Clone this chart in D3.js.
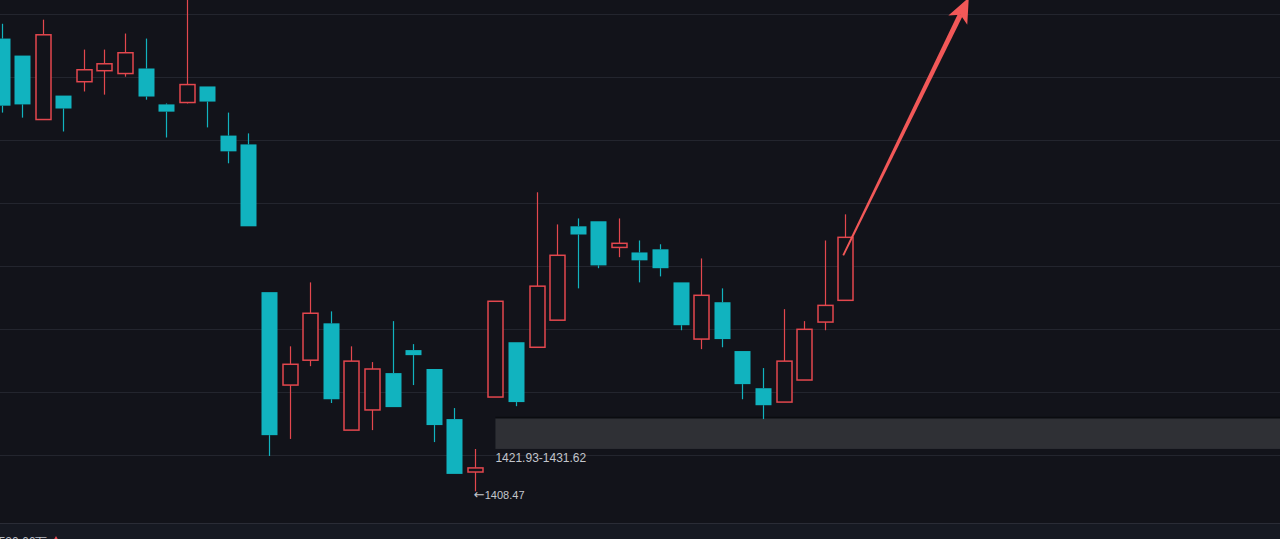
<!DOCTYPE html>
<html>
<head>
<meta charset="utf-8">
<script src="https://cdn.jsdelivr.net/npm/d3@7"></script>
<style>
  html, body { margin: 0; padding: 0; background: #12131a; overflow: hidden; }
  svg { display: block; }
</style>
</head>
<body>
<svg id="chart" width="1280" height="539"></svg>
<script>
// ---- data ----
const idx   = d3.range(42);
const open  = [1552.2,1546.8,1526.5,1534.1,1538.5,1542.0,1541.1,1542.7,1531.3,1531.9,1537.0,1521.4,1518.6,1471.7,1442.2,1450.1,1461.8,1427.9,1434.3,1446.0,1453.3,1447.3,1431.4,1414.6,1438.4,1455.8,1454.2,1462.8,1492.6,1494.2,1485.9,1484.3,1485.3,1474.8,1456.8,1468.5,1453.0,1441.2,1436.8,1443.8,1462.2,1469.1];
const high  = [1556.9,1546.8,1558.2,1534.1,1548.7,1548.7,1553.8,1552.2,1531.6,1567.4,1537.0,1528.7,1522.1,1471.7,1454.5,1474.8,1465.6,1454.5,1449.5,1462.5,1455.2,1447.3,1434.9,1421.9,1468.8,1455.8,1503.4,1493.2,1495.1,1494.2,1495.1,1488.1,1486.9,1474.8,1482.4,1472.9,1453.0,1447.6,1466.3,1462.5,1488.1,1496.4];
const low   = [1528.7,1527.1,1526.5,1522.7,1535.4,1534.4,1540.1,1532.8,1520.8,1531.6,1524.0,1512.6,1492.6,1419.7,1425.1,1448.2,1436.5,1427.9,1427.9,1435.2,1442.2,1424.1,1414.0,1408.47,1438.4,1435.5,1454.2,1462.8,1472.9,1479.3,1482.8,1474.8,1476.7,1459.6,1453.6,1454.2,1437.7,1431.4,1436.8,1443.8,1459.6,1469.1];
const close = [1530.9,1531.3,1553.4,1530.0,1542.3,1544.2,1547.7,1533.8,1529.0,1537.6,1532.2,1516.4,1492.6,1426.3,1448.8,1465.0,1437.7,1449.8,1447.3,1435.2,1451.7,1429.5,1414.0,1415.9,1468.8,1436.8,1473.6,1483.4,1490.0,1480.2,1487.2,1481.8,1479.3,1461.2,1470.7,1456.8,1442.5,1435.8,1449.8,1459.9,1467.5,1489.1];
const gridPrices = [1420,1440,1460,1480,1500,1520,1540,1560];
const zone = { from: 24, lo: 1421.93, hi: 1431.62, label: "1421.93-1431.62" };
const lowMark = { i: 23, price: 1408.47, arrow: "←", label: "1408.47" };
const arrowPts = [{ i: 40.9, p: 1483.4 }, { i: 47.0, p: 1565.2 }];
const footerText = "2520.66万";

// ---- styles ----
const UP = "#e3474e", DOWN = "#11b3bf", BG = "#12131a", GRID = "#23252e";
const FONT = "Liberation Sans, Arial, sans-serif";

const svg = d3.select("#chart");
const W = 1280, H = 539;

const x = d3.scaleLinear().domain([0, 41]).range([1.5, 845.3]);
const y = d3.scaleLinear().domain([1420, 1560]).range([455, 14]);
const bodyW = 16;

svg.append("rect").attr("width", W).attr("height", H).attr("fill", BG);
svg.append("rect").attr("x", 0).attr("y", 524).attr("width", W).attr("height", H - 524).attr("fill", "#161922");

// grid
svg.append("g").selectAll("line").data(gridPrices).join("line")
  .attr("x1", 0).attr("x2", W)
  .attr("y1", d => Math.round(y(d)) + 0.5).attr("y2", d => Math.round(y(d)) + 0.5)
  .attr("stroke", GRID).attr("stroke-width", 1);
svg.append("line").attr("x1", 0).attr("x2", W).attr("y1", 523.5).attr("y2", 523.5)
  .attr("stroke", "#2a2c36").attr("stroke-width", 1);

// zone box
svg.append("rect")
  .attr("x", x(zone.from)).attr("y", y(zone.hi))
  .attr("width", W - x(zone.from)).attr("height", y(zone.lo) - y(zone.hi))
  .attr("fill", "#2f3035");
svg.append("line").attr("x1", x(zone.from)).attr("x2", W)
  .attr("y1", y(zone.hi) - 1).attr("y2", y(zone.hi) - 1)
  .attr("stroke", "#0b0c10").attr("stroke-width", 1.5);
svg.append("text").attr("x", x(zone.from)).attr("y", y(zone.lo) + 13)
  .attr("fill", "#c3c6cc").attr("font-family", FONT)
  .attr("font-size", 12).text(zone.label);

// candles
const candles = idx.map(i => ({ i, o: open[i], h: high[i], l: low[i], c: close[i] }));
const g = svg.append("g");
candles.forEach(d => {
  const up = d.c >= d.o;
  const col = up ? UP : DOWN;
  const cx = Math.round(x(d.i)) + 0.5;
  const top = y(Math.max(d.o, d.c)), bot = y(Math.min(d.o, d.c));
  g.append("line").attr("x1", cx).attr("x2", cx).attr("y1", y(d.h)).attr("y2", top)
    .attr("stroke", col).attr("stroke-width", 1.2);
  g.append("line").attr("x1", cx).attr("x2", cx).attr("y1", bot).attr("y2", y(d.l))
    .attr("stroke", col).attr("stroke-width", 1.2);
  const bh = Math.max(bot - top, 1.5);
  if (up) {
    g.append("rect").attr("x", cx - bodyW / 2 + 0.5).attr("y", top)
      .attr("width", bodyW - 1).attr("height", bh)
      .attr("fill", BG).attr("stroke", col).attr("stroke-width", 1.5);
  } else {
    g.append("rect").attr("x", cx - bodyW / 2).attr("y", top)
      .attr("width", bodyW).attr("height", bh).attr("fill", col);
  }
});

// low marker
const lm = svg.append("text").attr("x", x(lowMark.i) - 1).attr("y", y(lowMark.price) + 8)
  .attr("fill", "#c3c6cc").attr("font-family", FONT).attr("font-size", 11);
lm.append("tspan").attr("font-family", "DejaVu Sans").attr("font-size", 13).text(lowMark.arrow);
lm.append("tspan").attr("dx", 0).text(lowMark.label);

// arrow
const ARROW = "#f25858";
const p0 = [x(arrowPts[0].i), y(arrowPts[0].p)];
const p1 = [x(arrowPts[1].i), y(arrowPts[1].p)];
const dx = p1[0] - p0[0], dy = p1[1] - p0[1];
const len = Math.hypot(dx, dy);
const ux = dx / len, uy = dy / len, nx = -uy, ny = ux;
const headL = 25, headW = 10.5;
const base = [p1[0] - ux * headL, p1[1] - uy * headL];
const notch = [p1[0] - ux * (headL - 6), p1[1] - uy * (headL - 6)];
const shaft = [
  [p0[0] + nx * 0.9, p0[1] + ny * 0.9],
  [notch[0] + nx * 2.6, notch[1] + ny * 2.6],
  [notch[0] - nx * 2.6, notch[1] - ny * 2.6],
  [p0[0] - nx * 0.9, p0[1] - ny * 0.9]
];
svg.append("path").attr("d", d3.line()(shaft) + "Z").attr("fill", ARROW);
const head = [
  p1,
  [base[0] + nx * headW, base[1] + ny * headW],
  notch,
  [base[0] - nx * headW, base[1] - ny * headW]
];
svg.append("path").attr("d", d3.line()(head) + "Z").attr("fill", ARROW);

// footer text (clipped at bottom, as in the source screenshot)
svg.append("text").attr("x", -8).attr("y", 546)
  .attr("fill", "#b8bbc2").attr("font-family", FONT)
  .attr("font-size", 12).text(footerText);
svg.append("path").attr("d", "M56,536 L60,543 L52,543 Z").attr("fill", UP);
</script>
</body>
</html>
